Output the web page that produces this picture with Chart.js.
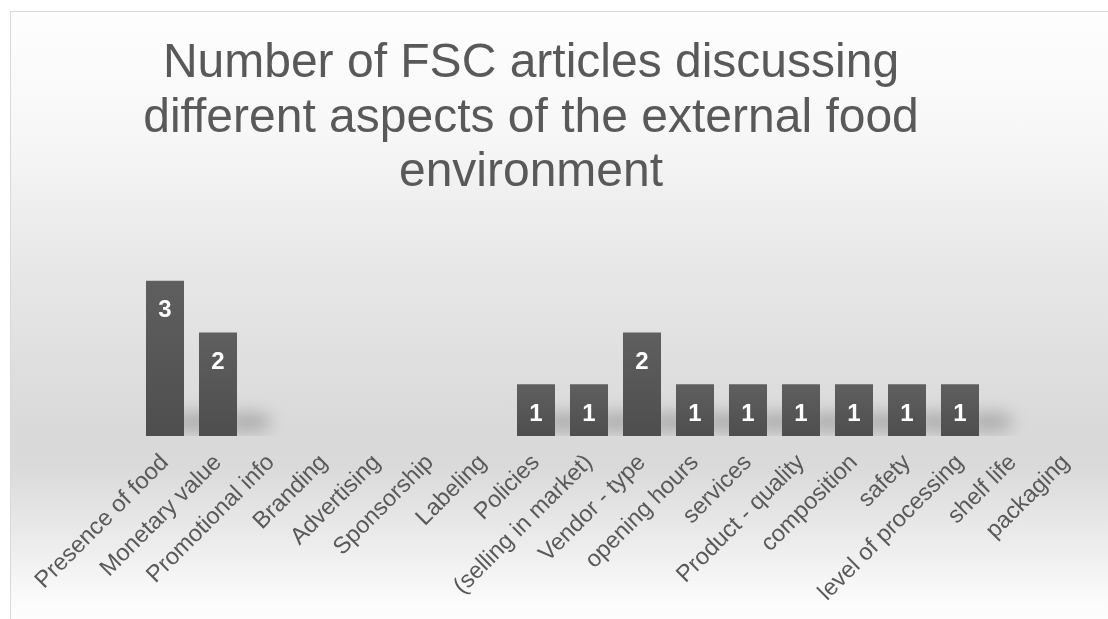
<!DOCTYPE html>
<html>
<head>
<meta charset="utf-8">
<script src="https://cdn.jsdelivr.net/npm/chart.js@4.4.1/dist/chart.umd.min.js"></script>
<style>
  html, body { margin: 0; padding: 0; background: #ffffff; width: 1108px; height: 619px; overflow: hidden; }
  #frame {
    position: absolute; left: 10px; top: 11px; width: 1200px; height: 700px;
    border: 1px solid #d9d9d9;
    background: linear-gradient(to bottom, #fefefe 0px, #f7f7f7 120px, #e8e8e8 250px, #d9d9d9 420px, #dadada 455px, #ececec 530px, #fbfbfb 590px, #ffffff 620px);
  }
  #wrap { position: absolute; left: 0; top: 0; width: 1108px; height: 619px; }
</style>
</head>
<body>
<div id="frame"></div>
<div id="wrap"><canvas id="c" width="1108" height="619"></canvas></div>
<script>
// ---- data ----
const categories = [
  "Presence of food", "Monetary value", "Promotional info", "Branding", "Advertising",
  "Sponsorship", "Labeling", "Policies", "(selling in market)", "Vendor - type",
  "opening hours", "services", "Product - quality", "composition", "safety",
  "level of processing", "shelf life", "packaging"
];
const articleCounts = [3, 2, 0, 0, 0, 0, 0, 1, 1, 2, 1, 1, 1, 1, 1, 1, 0, 0];
const titleLines = [
  "Number of FSC articles discussing",
  "different aspects of the external food",
  "environment"
];
const yMin = 0;
const yMax = 4;

const FONT = "'Liberation Sans', Arial, Helvetica, sans-serif";
const TEXT_GREY = "#595959";

// title drawn centred as in the reference
const titlePlugin = {
  id: 'offsetTitle',
  afterDraw(chart) {
    const ctx = chart.ctx;
    ctx.save();
    ctx.fillStyle = TEXT_GREY;
    ctx.font = "48px " + FONT;
    ctx.textAlign = 'center';
    ctx.textBaseline = 'alphabetic';
    titleLines.forEach((line, i) => {
      ctx.fillText(line, 531, 77 + i * 54.5);
    });
    ctx.restore();
  }
};

// soft floor shadow to the right of each bar
const shadowPlugin = {
  id: 'barShadow',
  beforeDatasetsDraw(chart) {
    const ctx = chart.ctx;
    const meta = chart.getDatasetMeta(0);
    const area = chart.chartArea;
    ctx.save();
    ctx.beginPath();
    ctx.rect(area.left, area.top, area.right - area.left + 20, area.bottom - area.top);
    ctx.clip();
    ctx.filter = 'blur(8px)';
    ctx.fillStyle = 'rgba(0,0,0,0.2)';
    meta.data.forEach((bar, i) => {
      if (!articleCounts[i]) return;
      const w = bar.width;
      ctx.beginPath();
      ctx.ellipse(bar.x + w / 2 + 10, bar.base - 14, w * 0.65, 10, 0, 0, Math.PI * 2);
      ctx.fill();
    });
    ctx.restore();
  }
};

// white value labels inside bars
const valueLabelPlugin = {
  id: 'valueLabels',
  afterDatasetsDraw(chart) {
    const ctx = chart.ctx;
    const meta = chart.getDatasetMeta(0);
    ctx.save();
    ctx.fillStyle = '#ffffff';
    ctx.font = "bold 24px " + FONT;
    ctx.textAlign = 'center';
    ctx.textBaseline = 'middle';
    meta.data.forEach((bar, i) => {
      const v = articleCounts[i];
      if (!v) return;
      ctx.fillText(String(v), bar.x, bar.y + 30);
    });
    ctx.restore();
  }
};

new Chart(document.getElementById('c'), {
  type: 'bar',
  data: {
    labels: categories,
    datasets: [{
      data: articleCounts,
      borderWidth: 0,
      categoryPercentage: 1,
      barPercentage: 0.717,
      backgroundColor: (c) => {
        const chart = c.chart;
        if (!chart.chartArea || c.type !== 'data' || !chart.scales.y) return '#575757';
        const yS = chart.scales.y;
        const top = yS.getPixelForValue(c.raw || 0);
        const base = yS.getPixelForValue(0);
        if (base - top < 1) return '#575757';
        const g = chart.ctx.createLinearGradient(0, top, 0, base);
        g.addColorStop(0, '#5f5f5f');
        g.addColorStop(1, '#4e4e4e');
        return g;
      }
    }]
  },
  options: {
    responsive: false,
    animation: false,
    events: [],
    layout: { padding: { left: 138.5, right: 15.5, top: 229, bottom: 0 } },
    plugins: {
      legend: { display: false },
      title: { display: false },
      tooltip: { enabled: false }
    },
    scales: {
      x: {
        grid: { display: false, drawTicks: false },
        border: { display: false },
        ticks: {
          autoSkip: false,
          maxRotation: 45,
          minRotation: 45,
          padding: 13,
          color: TEXT_GREY,
          font: { family: FONT, size: 23.5 }
        },
        afterFit(scale) { scale.height = 183; }
      },
      y: { display: false, min: yMin, max: yMax }
    }
  },
  plugins: [shadowPlugin, valueLabelPlugin, titlePlugin]
});
</script>
</body>
</html>
